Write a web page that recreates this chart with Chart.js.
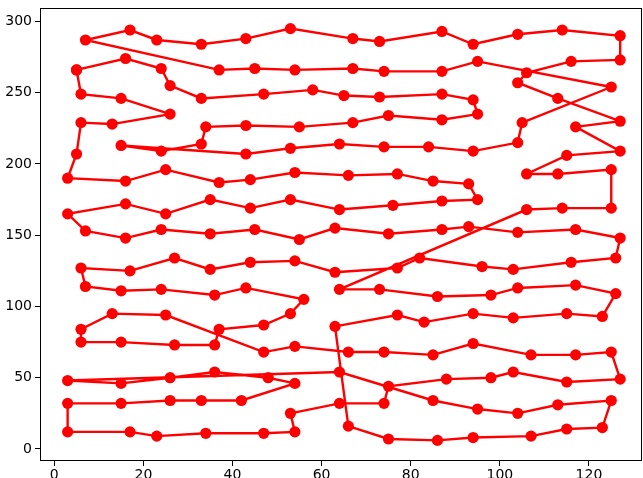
<!DOCTYPE html>
<html>
<head>
<meta charset="utf-8">
<script src="https://cdn.jsdelivr.net/npm/chart.js@4.4.0/dist/chart.umd.min.js"></script>
<style>
  html, body { margin: 0; padding: 0; background: #fff; }
  #wrap { width: 643px; height: 478px; }
</style>
</head>
<body>
<div id="wrap"><canvas id="tour" width="643" height="478"></canvas></div>
<script>
// tour order, x and y of each stop (closed loop)
const tourX = [
  5, 16, 24, 26, 33, 47, 58, 65, 73, 87, 94, 95, 87, 75, 67, 55, 43, 34, 33, 24,
  15, 43, 53, 64, 74, 84, 94, 104, 105, 125, 95, 87, 74, 67, 54, 45, 37, 7, 17, 23,
  33, 43, 53, 67, 73, 87, 94, 104, 114, 127, 127, 116, 106, 104, 113, 127, 117, 127, 115, 106,
  113, 125, 125, 114, 106, 64, 73, 86, 98, 104, 117, 126, 123, 115, 103, 94, 83, 77, 63, 66,
  75, 86, 94, 107, 115, 123, 125, 113, 104, 95, 85, 64, 3, 15, 26, 36, 48, 54, 42, 33,
  26, 15, 3, 3, 17, 23, 34, 47, 54, 53, 64, 74, 75, 88, 98, 103, 115, 127, 125, 117,
  107, 94, 85, 74, 66, 54, 47, 25, 13, 6, 6, 15, 27, 36, 37, 47, 53, 56, 43, 36,
  24, 15, 7, 6, 17, 27, 35, 44, 54, 63, 77, 82, 96, 103, 116, 126, 127, 117, 104, 93,
  87, 75, 63, 55, 45, 35, 24, 16, 7, 3, 16, 25, 35, 44, 53, 64, 76, 87, 95, 93,
  85, 77, 66, 54, 44, 37, 25, 16, 3, 5, 6, 13, 26, 15, 6, 5
];
const tourY = [
  266, 274, 267, 255, 246, 249, 252, 248, 247, 249, 245, 235, 231, 234, 229, 226, 227, 226, 214, 209,
  213, 207, 211, 214, 212, 212, 209, 215, 229, 254, 272, 265, 265, 267, 266, 267, 266, 287, 294, 287,
  284, 288, 295, 288, 286, 293, 284, 291, 294, 290, 273, 272, 264, 257, 246, 230, 226, 209, 206, 193,
  193, 196, 169, 169, 168, 112, 112, 107, 108, 113, 115, 109, 93, 95, 92, 95, 89, 94, 86, 16,
  7, 6, 8, 9, 14, 15, 34, 31, 25, 28, 34, 54, 48, 46, 50, 54, 50, 46, 34, 34,
  34, 32, 32, 12, 12, 9, 11, 11, 12, 25, 32, 32, 44, 49, 50, 54, 47, 49, 68, 66,
  66, 74, 66, 68, 68, 72, 68, 94, 95, 84, 75, 75, 73, 73, 84, 87, 95, 105, 113, 108,
  112, 111, 114, 127, 125, 134, 126, 131, 132, 124, 127, 134, 128, 126, 131, 134, 148, 154, 152, 156,
  154, 151, 155, 147, 154, 151, 154, 148, 153, 165, 172, 165, 175, 169, 175, 168, 171, 174, 175, 186,
  188, 193, 192, 194, 189, 187, 196, 188, 190, 207, 229, 228, 235, 246, 249, 266
];
const xTicks = [0, 20, 40, 60, 80, 100, 120];
const yTicks = [0, 50, 100, 150, 200, 250, 300];

const points = tourX.map((x, i) => ({ x: x, y: tourY[i] }));

// matplotlib-like box around the plot area
const frameBox = {
  id: 'frameBox',
  afterDraw(chart) {
    const a = chart.chartArea;
    const c = chart.ctx;
    c.save();
    c.strokeStyle = '#000';
    c.lineWidth = 1;
    c.strokeRect(a.left + 0.5, a.top + 0.5, a.right - a.left - 1, a.bottom - a.top - 1);
    c.restore();
  }
};

// fixed axis sizes, no label overhang padding
function fitAxis(s, size) {
  if (s.isHorizontal()) s.height = size; else s.width = size;
  s.paddingTop = 0;
  s.paddingBottom = 0;
  s.paddingLeft = 0;
  s.paddingRight = 0;
}

const tickFont = { family: 'DejaVu Sans', size: 14 };

new Chart(document.getElementById('tour'), {
  type: 'scatter',
  data: {
    datasets: [{
      data: points,
      showLine: true,
      borderColor: '#ff0000',
      backgroundColor: '#ff0000',
      borderWidth: 2.4,
      pointRadius: 5.6,
      pointHoverRadius: 5.6,
      pointBorderWidth: 0,
      tension: 0
    }]
  },
  options: {
    responsive: false,
    animation: false,
    layout: { autoPadding: false, padding: { top: 8, right: 1, left: 0, bottom: 0 } },
    plugins: { legend: { display: false }, tooltip: { enabled: false } },
    scales: {
      x: {
        type: 'linear',
        min: -3.2,
        max: 131.9,
        afterBuildTicks: s => { s.ticks = xTicks.map(v => ({ value: v })); },
        afterFit: s => fitAxis(s, 17),
        border: { display: false },
        grid: { drawOnChartArea: false, tickLength: 5, color: '#000' },
        ticks: { color: '#000', font: tickFont, padding: 1, maxRotation: 0 }
      },
      y: {
        type: 'linear',
        min: -8.45,
        max: 309.45,
        afterBuildTicks: s => { s.ticks = yTicks.map(v => ({ value: v })); },
        afterFit: s => fitAxis(s, 40),
        border: { display: false },
        grid: { drawOnChartArea: false, tickLength: 5, color: '#000' },
        ticks: { color: '#000', font: tickFont, padding: 3 }
      }
    }
  },
  plugins: [frameBox]
});
</script>
</body>
</html>
